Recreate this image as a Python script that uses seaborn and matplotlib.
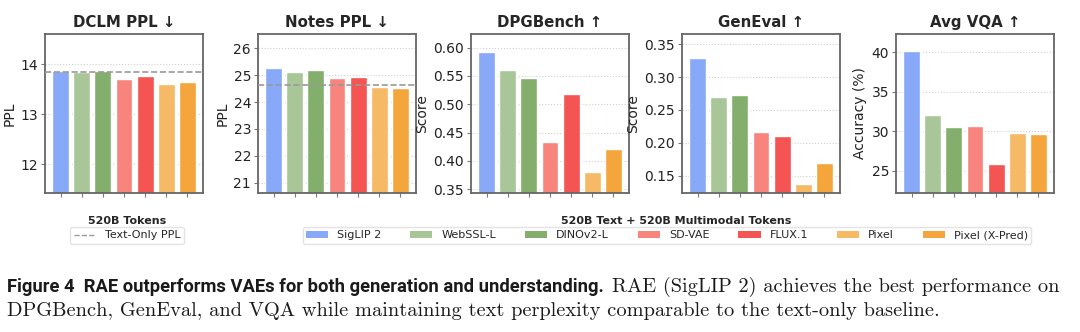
import matplotlib
matplotlib.use('Agg')
import matplotlib.pyplot as plt
import seaborn as sns
import pandas as pd
from matplotlib.patches import Patch
from matplotlib.lines import Line2D

models = ['SigLIP 2', 'WebSSL-L', 'DINOv2-L', 'SD-VAE', 'FLUX.1', 'Pixel', 'Pixel (X-Pred)']
colors = ['#87a9f8', '#a8c697', '#83ae6c', '#f8847e', '#f45452', '#f6b966', '#f4a53c']

dclm_ppl = [13.86, 13.84, 13.87, 13.71, 13.76, 13.60, 13.65]
notes_ppl = [25.26, 25.12, 25.19, 24.90, 24.92, 24.55, 24.52]
dpgbench = [0.593, 0.560, 0.546, 0.434, 0.518, 0.380, 0.422]
geneval = [0.329, 0.270, 0.273, 0.217, 0.211, 0.137, 0.169]
avg_vqa = [40.2, 32.1, 30.5, 30.7, 25.9, 29.8, 29.6]
text_only_ppl = [13.84, 24.63]

titles = ['DCLM PPL ↓', 'Notes PPL ↓', 'DPGBench ↑', 'GenEval ↑', 'Avg VQA ↑']
ylabels = ['PPL', 'PPL', 'Score', 'Score', 'Accuracy (%)']
yticks = [[12, 13, 14], [21, 22, 23, 24, 25, 26],
          [0.35, 0.40, 0.45, 0.50, 0.55, 0.60],
          [0.15, 0.20, 0.25, 0.30, 0.35], [25, 30, 35, 40]]
ytick_labels = [['12', '13', '14'], ['21', '22', '23', '24', '25', '26'],
                ['0.35', '0.40', '0.45', '0.50', '0.55', '0.60'],
                ['0.15', '0.20', '0.25', '0.30', '0.35'], ['25', '30', '35', '40']]
ylims = [(11.43, 14.6), (20.62, 26.53), (0.3435, 0.624), (0.1236, 0.3657), (22.17, 42.3)]

legend1_title = '520B Tokens'
legend1_label = 'Text-Only PPL'
legend2_title = '520B Text + 520B Multimodal Tokens'
caption_bold = 'Figure 4  RAE outperforms VAEs for both generation and understanding.'
caption_rest1 = 'RAE (SigLIP 2) achieves the best performance on'
caption_line2 = 'DPGBench, GenEval, and VQA while maintaining text perplexity comparable to the text-only baseline.'

sns.set_theme(style='white')
plt.rcParams['font.family'] = ['DejaVu Sans']

W, H = 1080, 332
fig = plt.figure(figsize=(W / 100, H / 100), dpi=100)

lefts = [45, 258, 471, 682, 896]
series = [dclm_ppl, notes_ppl, dpgbench, geneval, avg_vqa]
for i in range(5):
    ax = fig.add_axes([lefts[i] / W, (H - 193) / H, 158 / W, 159 / H])
    df = pd.DataFrame({'model': models, 'value': series[i]})
    sns.barplot(data=df, x='model', y='value', hue='model', palette=colors,
                saturation=1, legend=False, ax=ax, width=0.8,
                edgecolor='white', linewidth=1.0, zorder=2)
    if i < 2:
        ax.axhline(text_only_ppl[i], color='#999999', linestyle='--', linewidth=1.2, zorder=3)
    ax.set_xlim(-0.74, 6.74)
    ax.set_ylim(*ylims[i])
    ax.set_yticks(yticks[i])
    ax.set_yticklabels(ytick_labels[i], fontsize=10, color='#222222')
    ax.set_xticks(range(len(models)))
    ax.set_xticklabels([])
    ax.set_xlabel('')
    ax.set_ylabel(ylabels[i], fontsize=10, color='#222222', labelpad=3)
    ax.set_title(titles[i], fontsize=10.8, fontweight='bold', pad=5)
    ax.yaxis.grid(True, linestyle=':', color='#d0d0d0', linewidth=0.8, zorder=0)
    ax.set_axisbelow(True)
    ax.tick_params(axis='x', length=3, width=0.8, color='#777777', direction='out', bottom=True)
    ax.tick_params(axis='y', length=3, width=0.8, color='#777777', direction='out', left=True, pad=2)
    for s in ax.spines.values():
        s.set_color('#666666')
        s.set_linewidth(1.3)

# legend 1 (title drawn above the frame)
h1 = [Line2D([0], [0], color='#999999', linestyle='--', linewidth=1.0)]
leg1 = fig.legend(h1, [legend1_label], loc='center', bbox_to_anchor=(127 / W, (H - 235.5) / H),
                  fontsize=8, frameon=True, handlelength=2.0, handletextpad=0.8,
                  borderpad=0.3, borderaxespad=0)
leg1.get_frame().set_edgecolor('#dddddd')
fig.text(127 / W, (H - 221) / H, legend1_title, fontsize=8, fontweight='bold',
         ha='center', va='center')

# legend 2
h2 = [Patch(facecolor=c, edgecolor='none') for c in colors]
leg2 = fig.legend(h2, models, loc='center', bbox_to_anchor=(667 / W, (H - 235.5) / H),
                  ncol=7, fontsize=8, frameon=True,
                  handlelength=2.0, handleheight=0.6, handletextpad=0.8,
                  columnspacing=2.6, borderpad=0.3, borderaxespad=0)
leg2.get_frame().set_edgecolor('#dddddd')
fig.text(676 / W, (H - 221) / H, legend2_title, fontsize=8, fontweight='bold',
         ha='center', va='center')

# caption
fig.canvas.draw()
renderer = fig.canvas.get_renderer()
t1 = fig.text(7 / W, (H - 287) / H, caption_bold, fontsize=12.5, fontweight='bold',
              family=['Roboto', 'DejaVu Sans'], va='center', ha='left', color='#1a1a1a')
w = t1.get_window_extent(renderer).width
t1.set_fontsize(12.5 * 596 / w)
bb = t1.get_window_extent(renderer)
t3 = fig.text(7 / W, (H - 311) / H, caption_line2, fontsize=13.2, family=['cmr10'],
              va='center', ha='left', color='#1a1a1a')
w3 = t3.get_window_extent(renderer).width
fs = 13.2 * 930 / w3
t3.set_fontsize(fs)
fig.text((bb.x1 + 8) / W, (H - 287) / H, caption_rest1, fontsize=fs, family=['cmr10'],
         va='center', ha='left', color='#1a1a1a')

fig.savefig('out.png', dpi=100)
